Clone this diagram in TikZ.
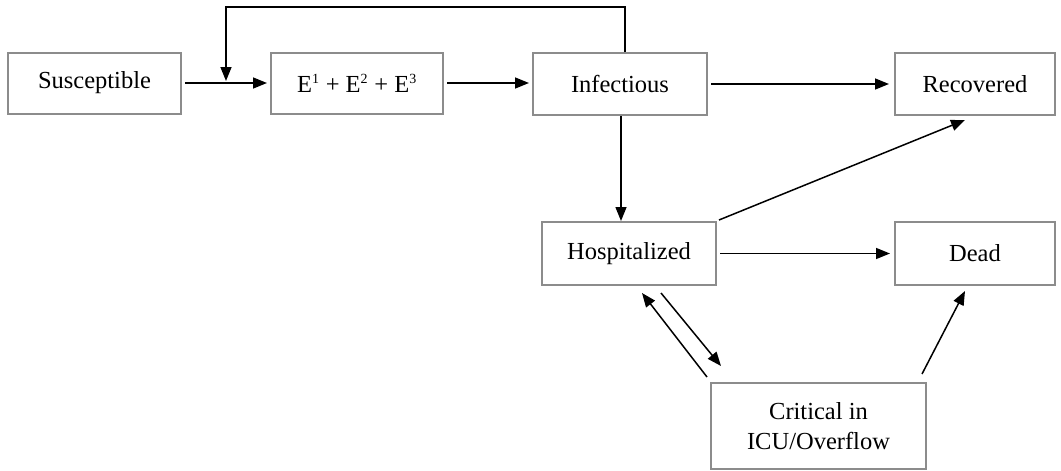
\documentclass[tikz,border=0pt]{standalone}
\usepackage{fontspec}
\setmainfont{Liberation Serif}
\usetikzlibrary{arrows.meta,calc}
\begin{document}
\begin{tikzpicture}[x=1pt,y=-1pt,
  box/.style={draw=black!45,line width=2pt,fill=white,inner sep=0pt,
    font=\fontsize{24.5}{30}\selectfont,align=center},
  arr/.style={line width=1.5pt,-{Triangle[length=14pt,width=11pt]}}]
\useasboundingbox (0,0) rectangle (1061,471);
\node[box,minimum width=173pt,minimum height=61pt] (sus) at (94.5,83) {Susceptible};
\node[box,minimum width=172pt,minimum height=61pt] (e) at (357,83) {E\textsuperscript{\fontsize{14}{14}\selectfont 1} + E\textsuperscript{\fontsize{14}{14}\selectfont 2} + E\textsuperscript{\fontsize{14}{14}\selectfont 3}};
\node[box,minimum width=174pt,minimum height=62pt] (inf) at (620,84) {Infectious};
\node[box,minimum width=160pt,minimum height=62pt] (rec) at (975,84) {Recovered};
\node[box,minimum width=174pt,minimum height=63pt] (hosp) at (629,253.5) {Hospitalized};
\node[box,minimum width=160pt,minimum height=63pt] (dead) at (975,253.5) {Dead};
\node[box,minimum width=215pt,minimum height=86pt] (crit) at (818.5,426) {Critical in\\ICU/Overflow};
\coordinate (top) at (625,7);
\coordinate (fb) at (226,81);
\draw[arr] ([xshift=3pt]sus.east) -- ([xshift=-3pt]e.west);
\draw[arr] ([xshift=3pt]e.east) -- ([xshift=-3pt]e.east -| inf.west);
\draw[arr] ([xshift=3pt]inf.east) -- ([xshift=-5pt]rec.west);
\draw[arr] (top |- inf.north) -- (top) -| (fb);
\draw[arr] ([xshift=1pt]inf.south) -- ([xshift=1pt]inf.south |- hosp.north);
\draw[arr] ($(hosp.north east)+(2,-1)$) -- ($(rec.south)+(-10,4)$);
\draw[arr] ([xshift=3pt]hosp.east) -- ([xshift=-4pt]dead.west);
\draw[arr] ($(crit.north west)+(-3,-5)$) -- ($(hosp.south)+(13,7)$);
\draw[arr] ($(hosp.south)+(32,7)$) -- ($(crit.north west)+(11,-16)$);
\draw[arr] ($(crit.north east)+(-5,-8)$) -- ($(dead.south)+(-10,5)$);
\end{tikzpicture}
\end{document}
